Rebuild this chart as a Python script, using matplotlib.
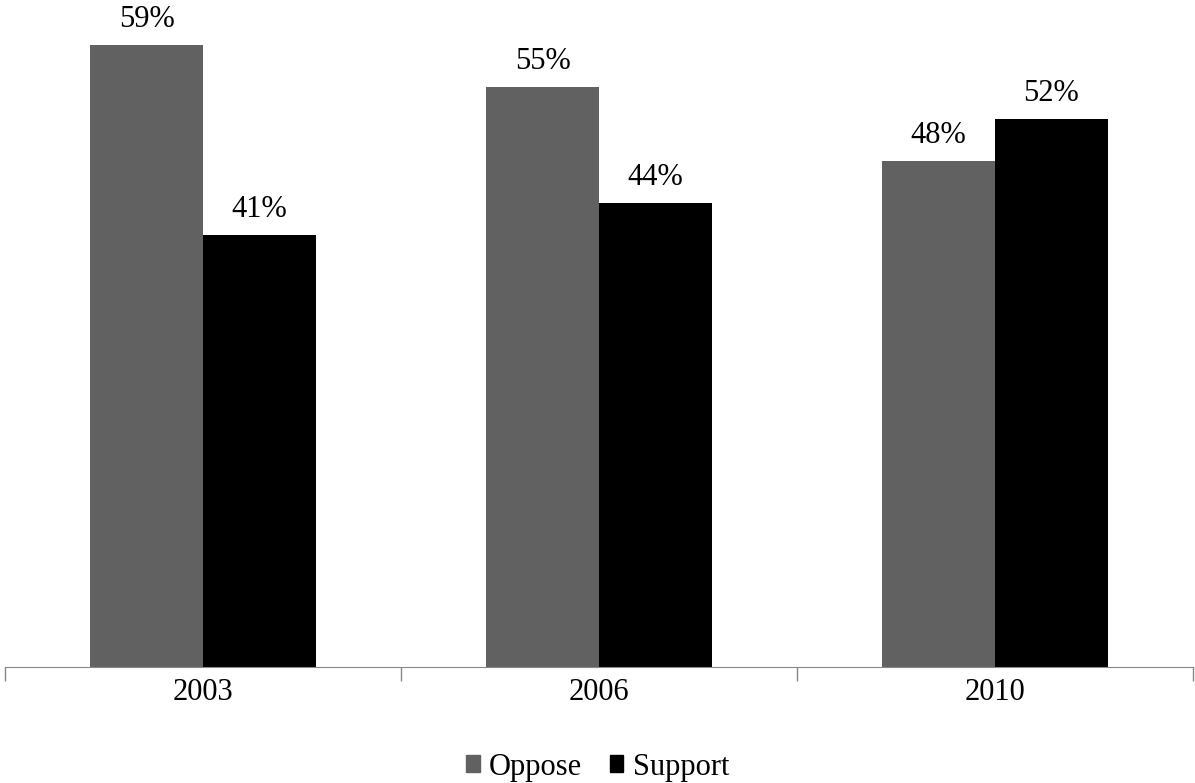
import matplotlib
matplotlib.use("Agg")
import matplotlib.pyplot as plt
import numpy as np
from matplotlib.patches import Patch

years = ["2003", "2006", "2010"]
oppose = [59, 55, 48]
support = [41, 44, 52]

plt.rcParams['font.family'] = ['Liberation Serif', 'DejaVu Serif']

fig = plt.figure(figsize=(11.95, 7.83), dpi=100)
ax = fig.add_axes([5 / 1195, 116 / 783, 1188 / 1195, 667 / 783])

x = np.arange(len(years))
w = 0.285
b1 = ax.bar(x - w / 2, oppose, w, color="#616161", label="Oppose")
b2 = ax.bar(x + w / 2, support, w, color="black", label="Support")

# porcentajes encima de cada barra
for bars in (b1, b2):
    for p in bars:
        h = p.get_height()
        ax.annotate("{}%".format(h), (p.get_x() + p.get_width() / 2, h),
                    xytext=(0, 8), textcoords="offset points",
                    ha="center", va="bottom", fontsize=22)

ax.set_xlim(-0.5, len(years) - 0.5)
ax.set_ylim(0, 63.3)
ax.set_xticks(np.arange(-0.5, len(years), 1.0), minor=False)
ax.set_xticklabels([])
ax.set_xticks(x, minor=True)
ax.set_xticklabels(years, minor=True, fontsize=22)
ax.tick_params(axis="x", which="major", length=10, color="#888888", width=1)
ax.tick_params(axis="x", which="minor", length=0, pad=8)
ax.set_yticks([])
for s in ["top", "right", "left"]:
    ax.spines[s].set_visible(False)
ax.spines["bottom"].set_color("#888888")

handles = [Patch(color="#616161", label="Oppose"), Patch(color="black", label="Support")]
fig.legend(handles=handles, loc="center", bbox_to_anchor=(0.5, 1 - 767 / 783), ncol=2,
           frameon=False, fontsize=22, handlelength=0.45, handleheight=0.45,
           handletextpad=0.3, columnspacing=0.9)

fig.savefig("out.png", dpi=100)
